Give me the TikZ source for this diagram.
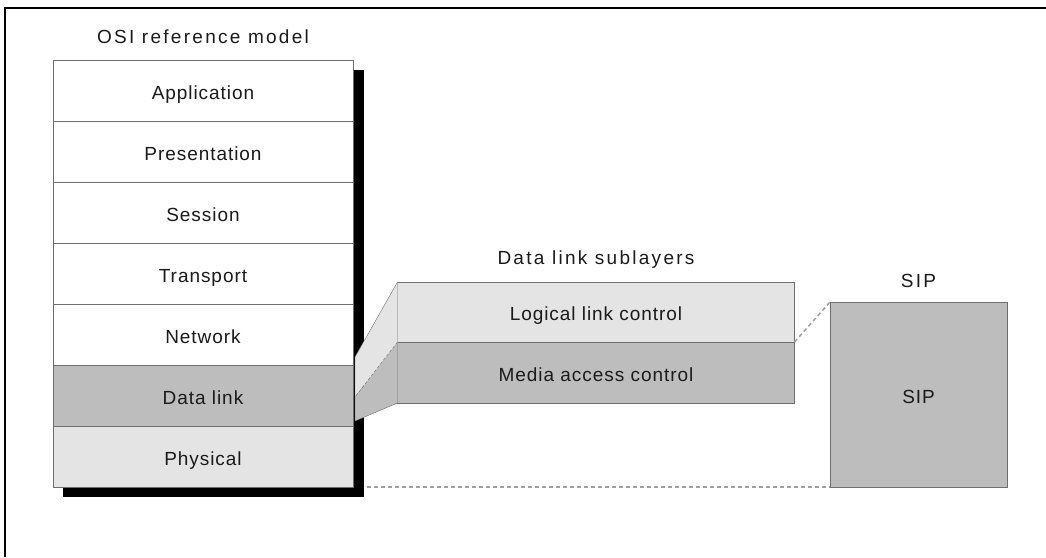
\documentclass[tikz,border=0pt]{standalone}
\usepackage{fontspec}
\setmainfont{Liberation Sans}
\usetikzlibrary{positioning,calc,backgrounds}
\definecolor{linegray}{HTML}{6E6E6E}
\definecolor{textgray}{HTML}{1A1A1A}
\definecolor{palegray}{HTML}{E4E4E4}
\definecolor{midgray}{HTML}{BDBDBD}
\definecolor{dashgray}{HTML}{A0A0A0}
\newcommand{\layerfont}{\fontsize{19}{21}\selectfont\addfontfeature{LetterSpace=5}}
\newcommand{\headfont}{\fontsize{19}{21}\selectfont\addfontfeature{LetterSpace=12}}

\tikzset{
  layer/.style={draw=linegray, fill=white, text=textgray, minimum width=300pt,
    minimum height=61pt, inner sep=0pt, outer sep=0pt, text height=17pt,
    text depth=0pt, font=\layerfont},
  sublayer/.style={layer, minimum width=397pt},
  heading/.style={text=textgray, inner sep=0pt, font=\headfont},
  linkdash/.style={draw=dashgray, line width=1.5pt, dash pattern=on 4pt off 3pt},
}

\begin{document}
\begin{tikzpicture}[x=1pt,y=-1pt]
\useasboundingbox (0,0) rectangle (1046,557);
\draw[line width=2pt] (5,557) -- (5,8) -- (1046,8);

% OSI stack
\node[layer] (app) at (203,90.5) {Application};
\node[layer, below=0pt of app] (pres) {Presentation};
\node[layer, below=0pt of pres] (sess) {Session};
\node[layer, below=0pt of sess] (trans) {Transport};
\node[layer, below=0pt of trans] (net) {Network};
\node[layer, fill=midgray, below=0pt of net] (dl) {Data link};
\node[layer, fill=palegray, below=0pt of dl] (phys) {Physical};
\node[heading, above=16pt of app] (osi) {OSI reference model};

% sublayers
\node[sublayer, fill=palegray, minimum height=60pt] (llc) at (596,312) {Logical link control};
\node[sublayer, fill=midgray, below=0pt of llc] (mac) {Media access control};
\node[heading, above=13pt of llc] (subs) {Data link sublayers};

% SIP
\node[layer, fill=midgray, minimum width=177pt, minimum height=185pt] (sip) at (918.5,394.5) {SIP};
\node[heading, above=14pt of sip] (siphead) {SIP};

\begin{scope}[on background layer]
  \draw[linkdash] (phys.south east) -- (sip.south west);
  \fill[black] ($(app.north west)+(10,10)$) rectangle ($(phys.south east)+(11,10)$);
\end{scope}

% faces joining data link to the sublayers
\coordinate (f1) at ($(dl.north east)+(2,-8)$);
\coordinate (f2) at ($(dl.north east)+(2,32)$);
\coordinate (f3) at ($(dl.south east)+(2,-5)$);
\fill[palegray] (llc.north west) -- (f1) -- (f2) -- (llc.south west) -- cycle;
\fill[midgray] (llc.south west) -- (f2) -- (f3) -- (mac.south west) -- cycle;
\draw[linegray] (llc.north west) -- (f1) -- (f3) -- (mac.south west);
\draw[linegray, densely dashed] (llc.south west) -- (f2);

\draw[linkdash] (llc.south east) -- (sip.north west);
\draw[linegray, densely dotted] (sip.north west) -- (sip.south west);
\end{tikzpicture}
\end{document}
